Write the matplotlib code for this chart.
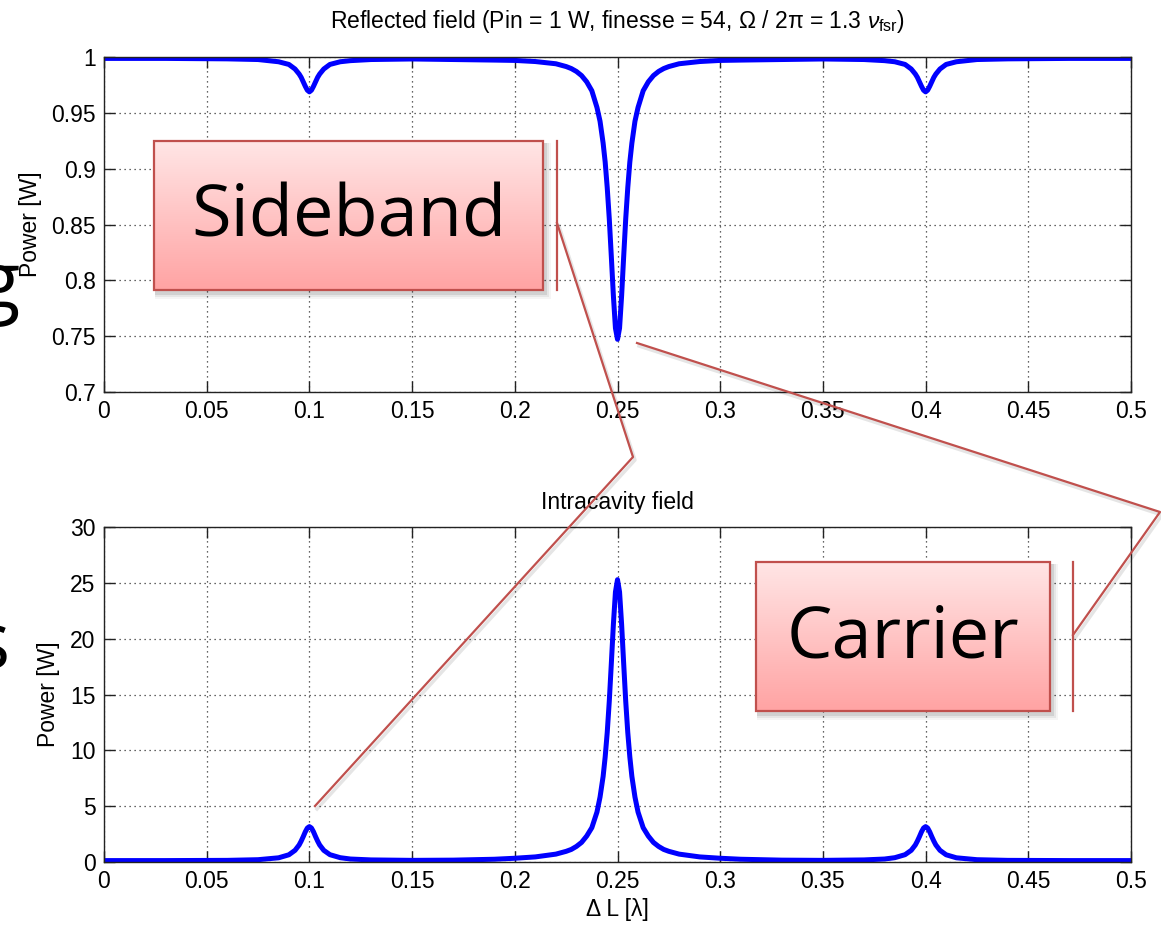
import numpy as np
import matplotlib
matplotlib.use("Agg")
import matplotlib.pyplot as plt
from matplotlib.colors import LinearSegmentedColormap
from matplotlib.patches import Rectangle

plt.rcParams['font.family'] = ['Liberation Sans', 'DejaVu Sans']
plt.rcParams['mathtext.fontset'] = 'custom'
plt.rcParams['mathtext.rm'] = 'Liberation Sans'
plt.rcParams['mathtext.it'] = 'Liberation Sans:italic'
plt.rcParams['mathtext.bf'] = 'Liberation Sans:bold'

# ---------------- data ----------------
delta_L = [0, 0.03, 0.06, 0.075, 0.085, 0.09, 0.093, 0.095, 0.096, 0.097, 0.098, 0.099, 0.1,
           0.101, 0.102, 0.103, 0.104, 0.105, 0.107, 0.11, 0.115, 0.12, 0.13, 0.15, 0.17, 0.19,
           0.2, 0.21, 0.22, 0.225, 0.2275, 0.23, 0.2325, 0.235, 0.2375, 0.24, 0.2415, 0.243, 0.244, 0.245,
           0.246, 0.247, 0.248, 0.249, 0.25,
           0.251, 0.252, 0.253, 0.254, 0.255, 0.256, 0.257, 0.2585, 0.26, 0.2625, 0.265, 0.2675,
           0.27, 0.2725, 0.275, 0.28, 0.29, 0.3, 0.31, 0.33, 0.35, 0.37, 0.38, 0.385, 0.39, 0.393,
           0.395, 0.396, 0.397, 0.398, 0.399, 0.4, 0.401, 0.402, 0.403, 0.404, 0.405, 0.407,
           0.41, 0.415, 0.425, 0.44, 0.47, 0.5]

reflected = [0.999, 0.999, 0.9986, 0.998, 0.996, 0.9936, 0.9895, 0.985, 0.982, 0.978, 0.974, 0.9705, 0.969,
             0.9705, 0.974, 0.978, 0.982, 0.985, 0.9895, 0.9936, 0.996, 0.997, 0.998, 0.9985, 0.998, 0.9975,
             0.9972, 0.9962, 0.9942, 0.9917, 0.9899, 0.9873, 0.9836, 0.978, 0.970, 0.955, 0.9426, 0.923, 0.906, 0.883,
             0.855, 0.821, 0.786, 0.757, 0.747,
             0.757, 0.786, 0.821, 0.855, 0.883, 0.906, 0.923, 0.9426, 0.955, 0.970, 0.978, 0.9836,
             0.9873, 0.9899, 0.9917, 0.9942, 0.9962, 0.9972, 0.9975, 0.998, 0.9985, 0.998, 0.997, 0.996, 0.9936, 0.9895,
             0.985, 0.982, 0.978, 0.974, 0.9705, 0.969, 0.9705, 0.974, 0.978, 0.982, 0.985, 0.9895,
             0.9936, 0.996, 0.998, 0.9986, 0.999, 0.999]

intracavity = [0.1, 0.1, 0.12, 0.18, 0.35, 0.62, 1.02, 1.5, 1.85, 2.25, 2.68, 3.02, 3.15,
               3.02, 2.68, 2.25, 1.85, 1.5, 1.02, 0.63, 0.36, 0.24, 0.16, 0.12, 0.14, 0.22,
               0.31, 0.43, 0.68, 0.93, 1.1, 1.37, 1.73, 2.3, 3.05, 4.45, 5.8, 7.65, 9.4, 11.6,
               14.4, 17.8, 21.3, 24.2, 25.3,
               24.2, 21.3, 17.8, 14.4, 11.6, 9.4, 7.65, 5.8, 4.45, 3.05, 2.3, 1.73,
               1.37, 1.1, 0.93, 0.68, 0.43, 0.31, 0.22, 0.14, 0.12, 0.16, 0.24, 0.36, 0.63, 1.02,
               1.5, 1.85, 2.25, 2.68, 3.02, 3.15, 3.02, 2.68, 2.25, 1.85, 1.5, 1.02,
               0.62, 0.35, 0.18, 0.12, 0.1, 0.1]

x_ticks = [0, 0.05, 0.1, 0.15, 0.2, 0.25, 0.3, 0.35, 0.4, 0.45, 0.5]
x_tick_labels = ['0', '0.05', '0.1', '0.15', '0.2', '0.25', '0.3', '0.35', '0.4', '0.45', '0.5']
top_y_ticks = [0.7, 0.75, 0.8, 0.85, 0.9, 0.95, 1.0]
top_y_tick_labels = ['0.7', '0.75', '0.8', '0.85', '0.9', '0.95', '1']
bot_y_ticks = [0, 5, 10, 15, 20, 25, 30]
bot_y_tick_labels = ['0', '5', '10', '15', '20', '25', '30']

top_title = r"Reflected field (Pin = 1 W, finesse = 54, Ω / 2π = 1.3 $\nu_{\mathrm{fsr}}$)"
bot_title = "Intracavity field"
y_label = "Power [W]"
x_label = "Δ L [λ]"
callout_texts = ["Sideband", "Carrier"]

# ---------------- figure ----------------
W, H = 1161, 925
fig = plt.figure(figsize=(W / 100, H / 100), dpi=100)
fig.patch.set_facecolor('white')

def px_rect(x0, y0, x1, y1):
    return [x0 / W, 1 - y1 / H, (x1 - x0) / W, (y1 - y0) / H]

ax1 = fig.add_axes(px_rect(104, 57.3, 1131, 391.7))
ax2 = fig.add_axes(px_rect(104, 527.3, 1131, 861.7))

FS = 16.5

def style(ax, yt, ytl, ylim):
    ax.set_xlim(0, 0.5)
    ax.set_ylim(*ylim)
    ax.set_xticks(x_ticks)
    ax.set_xticklabels(x_tick_labels)
    ax.set_yticks(yt)
    ax.set_yticklabels(ytl)
    ax.tick_params(direction='in', length=8, width=1, top=True, right=True,
                   labelsize=FS, pad=6, color='#222222')
    ax.grid(True, linestyle=(0, (1, 3)), color='#333333', linewidth=0.9)
    ax.set_axisbelow(True)
    for s in ax.spines.values():
        s.set_linewidth(1.0)
        s.set_color('#222222')

style(ax1, top_y_ticks, top_y_tick_labels, (0.7, 1.0))
style(ax2, bot_y_ticks, bot_y_tick_labels, (0, 30))

ax1.plot(delta_L, reflected, color='#0000FF', linewidth=3.6, solid_joinstyle='round')
ax2.plot(delta_L, intracavity, color='#0000FF', linewidth=3.6, solid_joinstyle='round')

ax1.set_title(top_title, fontsize=FS, y=1.087, pad=0)
ax2.set_title(bot_title, fontsize=FS, y=1.054, pad=0)

ax1.set_ylabel(y_label, fontsize=FS)
ax1.yaxis.set_label_coords(-0.0604, 0.5)
ax2.set_ylabel(y_label, fontsize=FS)
ax2.yaxis.set_label_coords(-0.0428, 0.5)
ax2.set_xlabel(x_label, fontsize=FS)
ax2.xaxis.set_label_coords(0.5, -0.108)

# ---------------- overlay (slide callouts) ----------------
ov = fig.add_axes([0, 0, 1, 1], zorder=10)
ov.set_facecolor('none')
ov.axis('off')

red = '#C0504D'
cmap = LinearSegmentedColormap.from_list('pink', [(1.0, 0.90, 0.90), (1.0, 0.64, 0.64)])
grad = np.linspace(0, 1, 256).reshape(-1, 1)

def callout(x0, y0, x1, y1, text, bracket_x, path):
    # soft shadow below/right of the box
    for k, a in [(7, 0.04), (5, 0.06), (3, 0.09)]:
        ov.add_patch(Rectangle((x0 + 1, y0 + 2), x1 - x0 + k, y1 - y0 + k,
                               facecolor='black', edgecolor='none', alpha=a, zorder=1))
    ov.imshow(grad, extent=(x0, x1, y1, y0), cmap=cmap, aspect='auto', origin='upper', zorder=2)
    ov.add_patch(Rectangle((x0, y0), x1 - x0, y1 - y0, facecolor='none', edgecolor=red,
                           linewidth=1.6, zorder=3))
    ov.text((x0 + x1) / 2, (y0 + y1) / 2 + 2, text, family=['Open Sans', 'DejaVu Sans'],
            fontsize=52, ha='center', va='center', color='black', zorder=4)
    ov.plot([bracket_x, bracket_x], [y0, y1], color=red, linewidth=1.6, zorder=3)
    xs = [p[0] for p in path]
    ys = [p[1] for p in path]
    ov.plot([v + 2 for v in xs], [v + 3 for v in ys], color='black', alpha=0.10, linewidth=2.5, zorder=2)
    ov.plot(xs, ys, color=red, linewidth=1.6, zorder=3)

callout(154, 141, 543, 290, callout_texts[0], 557, [(557, 223), (633, 457), (315, 806)])
callout(756, 562, 1050, 711, callout_texts[1], 1073, [(1073, 635), (1160, 512), (637, 343)])

# cut-off slide text at the left edge (as in the reference)
ov.text(20, 308, "g", family=['Open Sans', 'DejaVu Sans'], fontsize=56, ha='right', va='baseline')
ov.text(9, 668, "s", family=['Open Sans', 'DejaVu Sans'], fontsize=56, ha='right', va='baseline')

ov.set_xlim(0, W)
ov.set_ylim(H, 0)

fig.savefig('out.png', dpi=100)
